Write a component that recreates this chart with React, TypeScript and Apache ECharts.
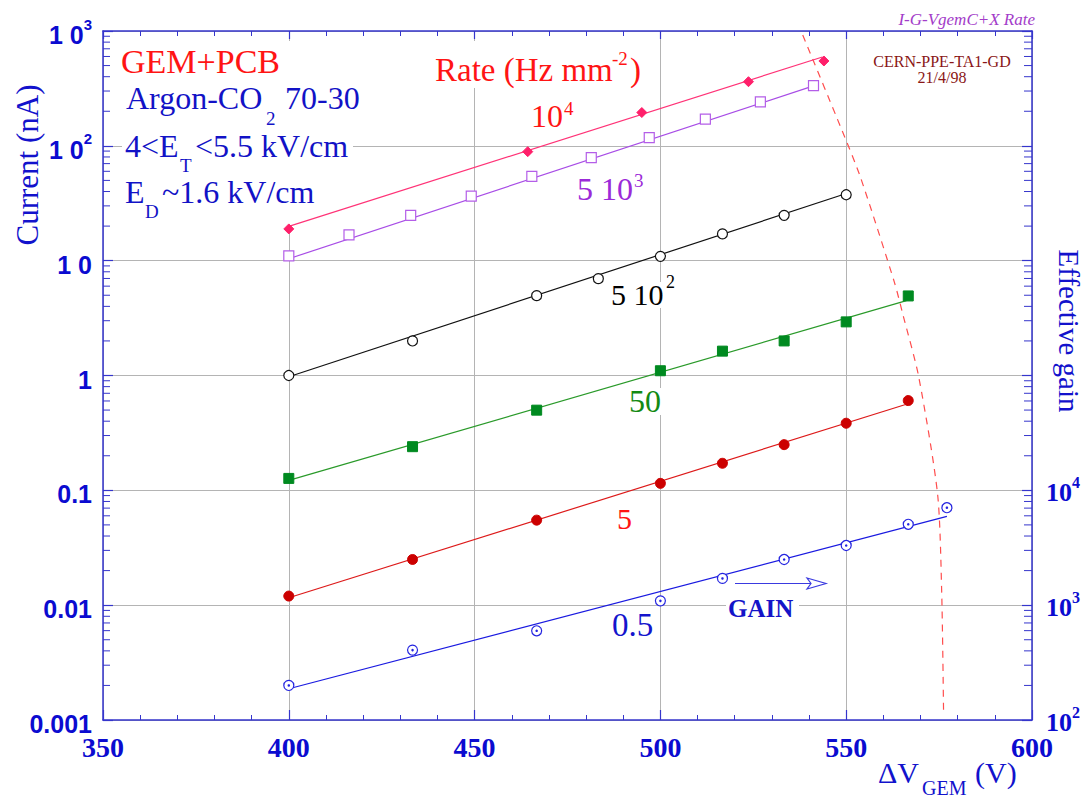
import React, { useEffect, useRef } from 'react';
import * as echarts from 'echarts';

const SERIF = '"Liberation Serif", "Times New Roman", serif';
const SANS = '"Liberation Sans", Arial, sans-serif';

const AXIS = '#3535cc';
const GRID = '#b4b4b4';
const LABEL_BLUE = '#0b0bd0';
const TEXT_BLUE = '#1212c6';
const RED = '#ff1414';
const PURPLE = '#9b2ad8';
const GREEN = '#138a13';

// x axis (Delta V_GEM, volts)
const xMin = 350;
const xMax = 600;
const xInterval = 50;

// left axis (current, nA) tick labels
const leftTickExp = [-3, -2, -1, 0, 1, 2, 3];
const leftTickLabels = ['0.001', '0.01', '0.1', '1', '1 0', '1 0{s|2}', '1 0{s|3}'];
// right axis (effective gain) tick labels
const gainTickExp = [2, 3, 4];
const gainTickLabels = ['10{s|2}', '10{s|3}', '10{s|4}'];

// Rate 10^4 Hz/mm2
const pinkV = [400, 464.3, 495, 523.7, 544];
const pinkI = [18.9, 89, 195, 362, 548];
const pinkFitV = [400, 543.6];
const pinkFitI = [19.9, 594];

// Rate 5 10^3
const purpleV = [400, 416.2, 432.8, 449.1, 465.4, 481.4, 497, 512.1, 526.9, 541.2];
const purpleI = [11.0, 16.8, 24.8, 36.5, 54.1, 79.1, 118, 171, 241, 334];
const purpleFitV = [400, 541.2];
const purpleFitI = [10.4, 333];

// Rate 5 10^2
const blackV = [400, 433.3, 466.7, 483.3, 500, 516.7, 533.3, 550];
const blackI = [1.0, 2.0, 4.96, 6.97, 10.9, 17.1, 24.8, 37.5];
const blackFitV = [400, 549];
const blackFitI = [0.975, 37.5];

// Rate 50
const greenV = [400, 433.3, 466.7, 500, 516.7, 533.3, 550, 566.7];
const greenI = [0.127, 0.24, 0.499, 1.1, 1.63, 2.0, 2.93, 4.93];
const greenFitV = [400, 566.2];
const greenFitI = [0.122, 4.49];

// Rate 5
const redV = [400, 433.3, 466.7, 500, 516.7, 533.3, 550, 566.7];
const redI = [0.012, 0.025, 0.055, 0.115, 0.172, 0.25, 0.384, 0.605];
const redFitV = [400, 566.2];
const redFitI = [0.0116, 0.562];

// Rate 0.5
const blueV = [400, 433.3, 466.7, 500, 516.7, 533.3, 550, 566.7, 577.1];
const blueI = [0.002, 0.00406, 0.00598, 0.0109, 0.0171, 0.025, 0.0331, 0.0506, 0.0706];
const blueFitV = [400, 577.1];
const blueFitI = [0.00187, 0.0593];

// dashed limit curve
const limitV = [538.3, 548.8, 553.8, 563.0, 565.4, 569.5, 574.6, 575.7, 576.2];
const limitI = [923, 138, 53.7, 6.44, 3.26, 0.98, 0.0923, 0.0129, 0.00118];

const zip = (a: number[], b: number[]) => a.map((v, i) => [v, b[i]]);

// minor log ticks on the current axis: 2..9 x 10^e
const minorMantissas = [2, 3, 4, 5, 6, 7, 8, 9];
const minorDecades = [-3, -2, -1, 0, 1, 2];

function t(x: number, y: number, text: string, size: number, color: string, o: any = {}) {
  const { align, rotation, weight, italic, family } = o;
  return {
    type: 'text',
    x,
    y,
    rotation: rotation || 0,
    z: 3,
    style: {
      text,
      fill: color,
      fontSize: size,
      fontFamily: family || SERIF,
      fontWeight: weight || 'normal',
      fontStyle: italic ? 'italic' : 'normal',
      align: align || 'left',
      verticalAlign: 'middle',
    },
  };
}

const whiteRect = (x: number, y: number, w: number, h: number) => ({
  type: 'rect',
  z: 1,
  shape: { x, y, width: w, height: h },
  style: { fill: '#ffffff' },
});

export default function App() {
  const ref = useRef<HTMLDivElement>(null);

  useEffect(() => {
    document.body.style.margin = '0';
    const chart = echarts.init(ref.current as HTMLDivElement, undefined, { renderer: 'svg' });

    const minorData: number[][] = [];
    minorDecades.forEach((e) => minorMantissas.forEach((m) => minorData.push([xMin, m * Math.pow(10, e)])));

    const scatter = (name: string, v: number[], i: number[], symbol: string, size: number, fill: string, border: string, bw = 1) => ({
      name,
      type: 'scatter',
      data: zip(v, i),
      symbol,
      symbolSize: size,
      itemStyle: { color: fill, borderColor: border, borderWidth: bw, opacity: 1 },
      z: 4,
      silent: true,
    });
    const fit = (name: string, v: number[], i: number[], color: string) => ({
      name,
      type: 'line',
      data: zip(v, i),
      showSymbol: false,
      symbol: 'none',
      lineStyle: { color, width: 1.2 },
      z: 3,
      silent: true,
    });

    const option: any = {
      animation: false,
      backgroundColor: '#ffffff',
      grid: { left: 103, right: 58, top: 31, bottom: 79, containLabel: false },
      xAxis: [
        {
          type: 'value',
          min: xMin,
          max: xMax,
          interval: xInterval,
          position: 'bottom',
          axisLine: { show: true, onZero: false, lineStyle: { color: AXIS, width: 1.5 } },
          axisTick: { show: true, inside: true, length: 10, lineStyle: { color: AXIS, width: 1.2 } },
          minorTick: { show: true, splitNumber: 5, length: 5, lineStyle: { color: AXIS, width: 1 } },
          splitLine: { show: true, lineStyle: { color: GRID, width: 1 } },
          axisLabel: { color: LABEL_BLUE, fontFamily: SERIF, fontWeight: 'bold', fontSize: 28, margin: 13 },
        },
        {
          type: 'value',
          min: xMin,
          max: xMax,
          interval: xInterval,
          position: 'top',
          axisLine: { show: true, onZero: false, lineStyle: { color: AXIS, width: 1.5 } },
          axisTick: { show: true, inside: true, length: 8, lineStyle: { color: AXIS, width: 1.2 } },
          minorTick: { show: true, splitNumber: 5, length: 5, lineStyle: { color: AXIS, width: 1 } },
          splitLine: { show: false },
          axisLabel: { show: false },
        },
      ],
      yAxis: [
        {
          type: 'log',
          logBase: 10,
          min: 0.001,
          max: 1000,
          splitNumber: 6,
          position: 'left',
          axisLine: { show: true, onZero: false, lineStyle: { color: AXIS, width: 1.5 } },
          axisTick: { show: true, inside: true, length: 10, lineStyle: { color: AXIS, width: 1.2 } },
          splitLine: { show: true, lineStyle: { color: GRID, width: 1 } },
          axisLabel: {
            showMinLabel: true,
            showMaxLabel: true,
            hideOverlap: false,
            margin: 11,
            color: LABEL_BLUE,
            fontFamily: SANS,
            fontWeight: 'bold',
            fontSize: 25,
            padding: [8, 0, 0, 0],
            formatter: (v: number) => {
              const e = Math.round(Math.log10(v));
              const k = leftTickExp.indexOf(e);
              return k >= 0 ? leftTickLabels[k] : '';
            },
            rich: {
              s: { fontSize: 15, fontFamily: SANS, fontWeight: 'bold', color: LABEL_BLUE, padding: [0, 0, 22, 0] },
            },
          },
        },
        {
          type: 'log',
          logBase: 10,
          min: 100,
          max: 1e8,
          splitNumber: 6,
          position: 'right',
          axisLine: { show: true, onZero: false, lineStyle: { color: AXIS, width: 1.5 } },
          axisTick: { show: true, inside: true, length: 10, lineStyle: { color: AXIS, width: 1.2 } },
          splitLine: { show: false },
          axisLabel: {
            showMinLabel: true,
            hideOverlap: false,
            margin: 14,
            color: LABEL_BLUE,
            fontFamily: SERIF,
            fontWeight: 'bold',
            fontSize: 26,
            padding: [4, 0, 0, 0],
            formatter: (v: number) => {
              const e = Math.round(Math.log10(v));
              const k = gainTickExp.indexOf(e);
              return k >= 0 ? gainTickLabels[k] : '';
            },
            rich: {
              s: { fontSize: 16, fontFamily: SERIF, fontWeight: 'bold', color: LABEL_BLUE, padding: [0, 0, 20, 0] },
            },
          },
        },
      ],
      series: [
        {
          type: 'custom',
          silent: true,
          clip: false,
          z: 1,
          data: minorData,
          renderItem: (params: any, api: any) => {
            const v = api.value(1);
            const pl = api.coord([xMin, v]);
            const pr = api.coord([xMax, v]);
            return {
              type: 'group',
              children: [
                { type: 'line', shape: { x1: pl[0], y1: pl[1], x2: pl[0] + 7, y2: pl[1] }, style: { stroke: AXIS, lineWidth: 1 } },
                { type: 'line', shape: { x1: pr[0], y1: pr[1], x2: pr[0] - 8, y2: pr[1] }, style: { stroke: AXIS, lineWidth: 1 } },
              ],
            };
          },
        },
        {
          name: 'limit',
          type: 'line',
          data: zip(limitV, limitI),
          showSymbol: false,
          symbol: 'none',
          smooth: 0.25,
          lineStyle: { color: '#ff4d4d', width: 1.2, type: [7, 6] },
          z: 3,
          silent: true,
        },
        fit('fit1e4', pinkFitV, pinkFitI, '#ff3377'),
        fit('fit5e3', purpleFitV, purpleFitI, '#a84de6'),
        fit('fit5e2', blackFitV, blackFitI, '#111111'),
        fit('fit50', greenFitV, greenFitI, '#2a9a2a'),
        fit('fit5', redFitV, redFitI, '#dd1a1a'),
        fit('fit05', blueFitV, blueFitI, '#1a1ae0'),
        scatter('1e4', pinkV, pinkI, 'diamond', 10, '#ff1f6a', '#ff1f6a'),
        scatter('5e3', purpleV, purpleI, 'rect', 10, '#ffffff', '#b45ee8', 1.2),
        scatter('5e2', blackV, blackI, 'circle', 10, '#ffffff', '#111111', 1.2),
        scatter('50', greenV, greenI, 'rect', 10, '#008a20', '#008a20'),
        scatter('5', redV, redI, 'circle', 10, '#cc0000', '#cc0000'),
        scatter('0.5', blueV, blueI, 'circle', 10, '#ffffff', '#2424e0', 1.2),
        scatter('0.5dot', blueV, blueI, 'circle', 2.5, '#2424e0', '#2424e0', 0),
      ],
      graphic: [
        whiteRect(122, 41, 231, 185),
        whiteRect(432, 41, 218, 47),
        whiteRect(609, 282, 73, 26),
        whiteRect(627, 388, 38, 27),
        whiteRect(726, 598, 73, 21),
        // text block top-left
        t(121, 61.5, 'GEM+PCB', 34, RED),
        t(126, 98, 'Argon-CO', 32, TEXT_BLUE),
        t(266, 118, '2', 19, TEXT_BLUE),
        t(285, 98, '70-30', 32, TEXT_BLUE),
        t(125, 146, '4<E', 32, TEXT_BLUE),
        t(180, 165.5, 'T', 19, TEXT_BLUE),
        t(195, 146, '<5.5 kV/cm', 32, TEXT_BLUE),
        t(125, 192, 'E', 32, TEXT_BLUE),
        t(145, 211.5, 'D', 19, TEXT_BLUE),
        t(162, 192, '~1.6 kV/cm', 32, TEXT_BLUE),
        // rate labels
        t(435, 70, 'Rate (Hz mm', 33, RED),
        t(612, 58.5, '-2', 19, RED),
        t(630, 70, ')', 33, RED),
        t(531, 115.5, '10', 32, RED),
        t(564, 108.5, '4', 19, RED),
        t(577, 188.5, '5 10', 32, PURPLE),
        t(634, 180.5, '3', 19, PURPLE),
        t(611, 294.5, '5 10', 30, '#000000'),
        t(666, 281.5, '2', 18, '#000000'),
        t(629, 401, '50', 32, GREEN),
        t(617, 518, '5', 30, RED),
        t(612, 625, '0.5', 33, '#1414cc'),
        t(728, 608.5, 'GAIN', 25, '#1414c8', { weight: 'bold' }),
        { type: 'line', z: 3, shape: { x1: 735, y1: 583.5, x2: 824, y2: 583.5 }, style: { stroke: '#3a3ae0', lineWidth: 1.2 } },
        { type: 'polygon', z: 3, shape: { points: [[807, 578], [826, 583.5], [807, 589], [811, 583.5]] }, style: { fill: '#ffffff', stroke: '#3a3ae0', lineWidth: 1.2 } },
        // stamp
        t(942, 61, 'CERN-PPE-TA1-GD', 16, '#8a1616', { align: 'center' }),
        t(942, 77.5, '21/4/98', 16, '#8a1616', { align: 'center' }),
        t(1035, 19, 'I-G-VgemC+X Rate', 17, '#a33cc9', { align: 'right', italic: true }),
        // axis titles
        t(27, 165, 'Current (nA)', 31, '#1212cc', { align: 'center', rotation: Math.PI / 2 }),
        t(1069, 331, 'Effective gain', 29, '#1212cc', { align: 'center', rotation: -Math.PI / 2 }),
        t(878, 772, 'ΔV', 30, '#1212cc'),
        t(922, 788, 'GEM', 20, '#1212cc'),
        t(975, 772, '(V)', 30, '#1212cc'),
      ],
    };

    chart.setOption(option);
    return () => chart.dispose();
  }, []);

  return <div ref={ref} style={{ width: 1090, height: 799 }} />;
}
